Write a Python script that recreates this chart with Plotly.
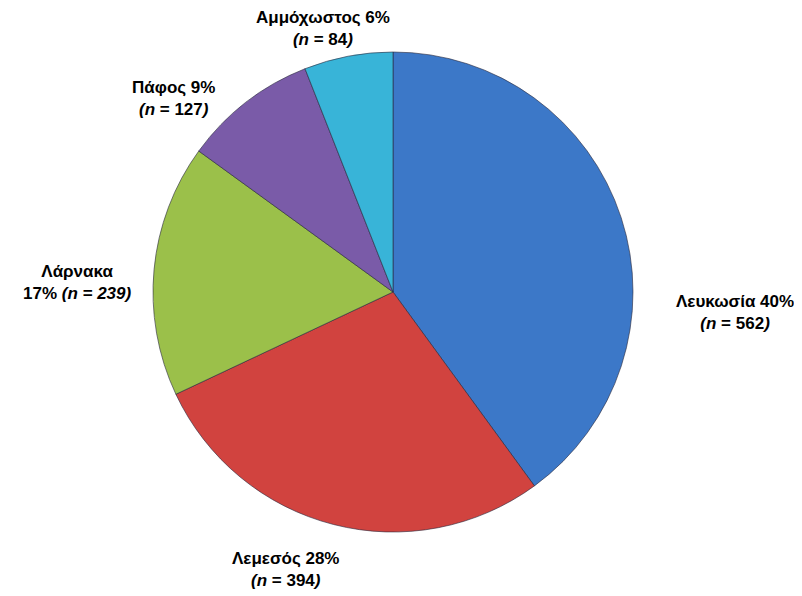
import plotly.graph_objects as go

# district breakdown (clockwise from 12 o'clock)
districts = ["Λευκωσία", "Λεμεσός", "Λάρνακα", "Πάφος", "Αμμόχωστος"]
counts = [562, 394, 239, 127, 84]
percents = [40, 28, 17, 9, 6]
colors = ["#3C78C8", "#D1433F", "#9BC04A", "#7A5BA8", "#38B4D8"]

# label text and where it sits on the page (pixels in the screenshot)
label_text = [
    f"{districts[0]} {percents[0]}%<br><i>(n</i> = {counts[0]}<i>)</i>",
    f"{districts[1]} {percents[1]}%<br><i>(n</i> = {counts[1]}<i>)</i>",
    f"{districts[2]}<br>{percents[2]}% <i>(n = {counts[2]})</i>",
    f"{districts[3]} {percents[3]}%<br><i>(n</i> = {counts[3]}<i>)</i>",
    f"{districts[4]} {percents[4]}%<br><i>(n</i> = {counts[4]}<i>)</i>",
]
label_x = [735, 285, 77, 173, 323]
label_y = [312, 569, 282, 98, 29]

W, H = 802, 596
OFF = 8  # page body margin pushes the figure right/down
cx, cy, r = 393 - OFF, 292 - OFF, 240

fig = go.Figure(go.Pie(
    labels=districts,
    values=counts,
    sort=False,
    direction="clockwise",
    rotation=0,
    marker=dict(colors=colors, line=dict(color="rgba(40,40,60,0.6)", width=1)),
    textinfo="none",
    hoverinfo="label+value+percent",
    showlegend=False,
    domain=dict(x=[(cx - r) / W, (cx + r) / W], y=[1 - (cy + r) / H, 1 - (cy - r) / H]),
))

for t, x, y in zip(label_text, label_x, label_y):
    fig.add_annotation(
        x=(x - OFF) / W, y=1 - (y - OFF) / H, xref="paper", yref="paper",
        xanchor="center", yanchor="middle",
        text=f"<b>{t}</b>", showarrow=False, align="center",
        font=dict(family="Liberation Sans", size=17, color="black"),
    )

fig.update_layout(
    width=W, height=H,
    margin=dict(l=0, r=0, t=0, b=0),
    paper_bgcolor="white",
    plot_bgcolor="white",
    font=dict(family="Liberation Sans", size=17, color="black"),
)

fig.write_html("out.html")
